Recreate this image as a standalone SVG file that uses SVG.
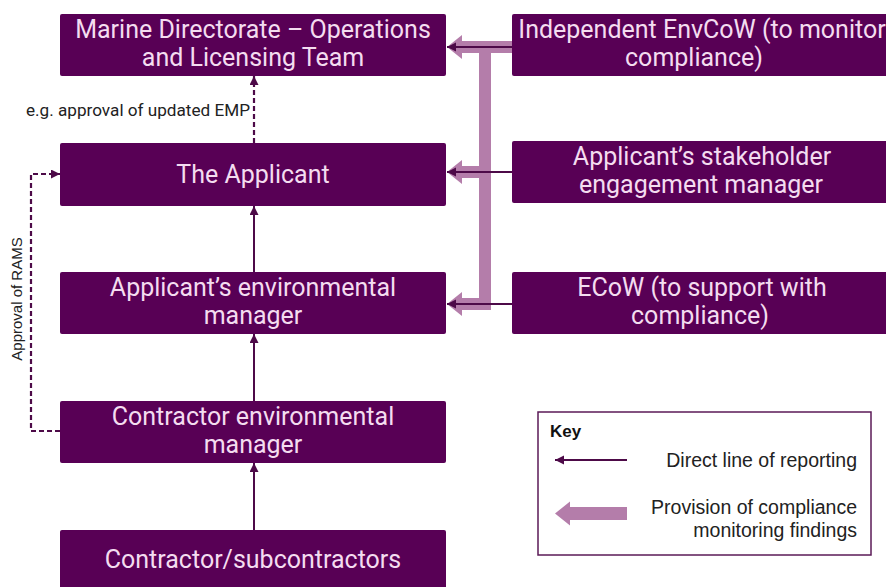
<svg xmlns="http://www.w3.org/2000/svg" width="886" height="587" viewBox="0 0 886 587">
<defs>
<style>
.box{fill:#580055;}
.bt{font-family:Roboto,"Liberation Sans",sans-serif;font-size:25px;fill:#f4dcf0;text-anchor:middle;}
.dark{stroke:#4d0a48;stroke-width:2;fill:none;}
.dash{stroke:#4d0a48;stroke-width:2.2;fill:none;stroke-dasharray:5 3;}
.pink{fill:#b47daa;}
.kt{font-family:"Liberation Sans",Arial,sans-serif;font-size:19.5px;fill:#222;text-anchor:end;}
.lbl{font-family:Roboto,"Liberation Sans",sans-serif;font-size:16px;fill:#222;}
</style>
<marker id="ah" markerUnits="userSpaceOnUse" markerWidth="10" markerHeight="10" refX="9" refY="4.5" orient="auto">
<path d="M0,0 L9,4.5 L0,9 z" fill="#4d0a48"/>
</marker>
</defs>
<rect width="886" height="587" fill="#ffffff"/>

<g id="connectors">
<rect class="pink" x="459" y="41" width="53" height="12"/>
<rect class="pink" x="479" y="41" width="12" height="269"/>
<rect class="pink" x="459" y="166" width="26" height="12"/>
<rect class="pink" x="459" y="298" width="32" height="12"/>
<polygon class="pink" points="447,47 462,35 462,59"/>
<polygon class="pink" points="447,172 462,160 462,184"/>
<polygon class="pink" points="447,304 462,292 462,316"/>
<line class="dark" x1="512" y1="47" x2="447" y2="47" marker-end="url(#ah)"/>
<line class="dark" x1="512" y1="172" x2="447" y2="172" marker-end="url(#ah)"/>
<line class="dark" x1="512" y1="304" x2="447" y2="304" marker-end="url(#ah)"/>
<line class="dark" x1="254" y1="530" x2="254" y2="463" marker-end="url(#ah)"/>
<line class="dark" x1="254" y1="401" x2="254" y2="334" marker-end="url(#ah)"/>
<line class="dark" x1="254" y1="272" x2="254" y2="206" marker-end="url(#ah)"/>
<line class="dash" x1="254" y1="143" x2="254" y2="76" marker-end="url(#ah)"/>
<path class="dash" d="M60,431 H31 V174 H60" marker-end="url(#ah)"/>
<text class="lbl" x="250" y="116" text-anchor="end" textLength="224" lengthAdjust="spacingAndGlyphs">e.g. approval of updated EMP</text>
<text font-family="Liberation Sans, Arial, sans-serif" font-size="15px" fill="#222" text-anchor="middle" transform="translate(22,299) rotate(-90)">Approval of RAMS</text>
</g>

<g id="marine">
<rect class="box" x="60" y="14" width="386" height="62" rx="2"/>
<text class="bt" x="253" y="38">Marine Directorate – Operations</text>
<text class="bt" x="253" y="66">and Licensing Team</text>
</g>
<g id="independent-envcow">
<rect class="box" x="512" y="14" width="390" height="62" rx="2"/>
<text class="bt" x="702" y="38">Independent EnvCoW (to monitor</text>
<text class="bt" x="694" y="66">compliance)</text>
</g>
<g id="applicant">
<rect class="box" x="60" y="143" width="386" height="63" rx="2"/>
<text class="bt" x="253" y="183">The Applicant</text>
</g>
<g id="stakeholder-manager">
<rect class="box" x="512" y="141" width="390" height="62" rx="2"/>
<text class="bt" x="702" y="165">Applicant’s stakeholder</text>
<text class="bt" x="701" y="193">engagement manager</text>
</g>
<g id="env-manager">
<rect class="box" x="60" y="272" width="386" height="62" rx="2"/>
<text class="bt" x="253" y="296">Applicant’s environmental</text>
<text class="bt" x="253" y="324">manager</text>
</g>
<g id="ecow">
<rect class="box" x="512" y="272" width="390" height="62" rx="2"/>
<text class="bt" x="702" y="296">ECoW (to support with</text>
<text class="bt" x="700" y="324">compliance)</text>
</g>
<g id="contractor-env-manager">
<rect class="box" x="60" y="401" width="386" height="62" rx="2"/>
<text class="bt" x="253" y="425">Contractor environmental</text>
<text class="bt" x="253" y="453">manager</text>
</g>
<g id="contractors">
<rect class="box" x="60" y="530" width="386" height="62" rx="2"/>
<text class="bt" x="253" y="568">Contractor/subcontractors</text>
</g>

<g id="key">
<rect x="538" y="412" width="333" height="143" fill="#ffffff" stroke="#5b1a57" stroke-width="1.5"/>
<text x="550" y="437" font-family="Liberation Sans, Arial, sans-serif" font-size="17px" font-weight="bold" fill="#111">Key</text>
<line class="dark" x1="627" y1="460" x2="555" y2="460" marker-end="url(#ah)"/>
<text class="kt" x="857" y="467">Direct line of reporting</text>
<rect class="pink" x="569" y="507" width="58" height="13"/>
<polygon class="pink" points="555,513.5 570,501.5 570,525.5"/>
<text class="kt" x="857" y="514">Provision of compliance</text>
<text class="kt" x="857" y="537">monitoring findings</text>
</g>
</svg>
